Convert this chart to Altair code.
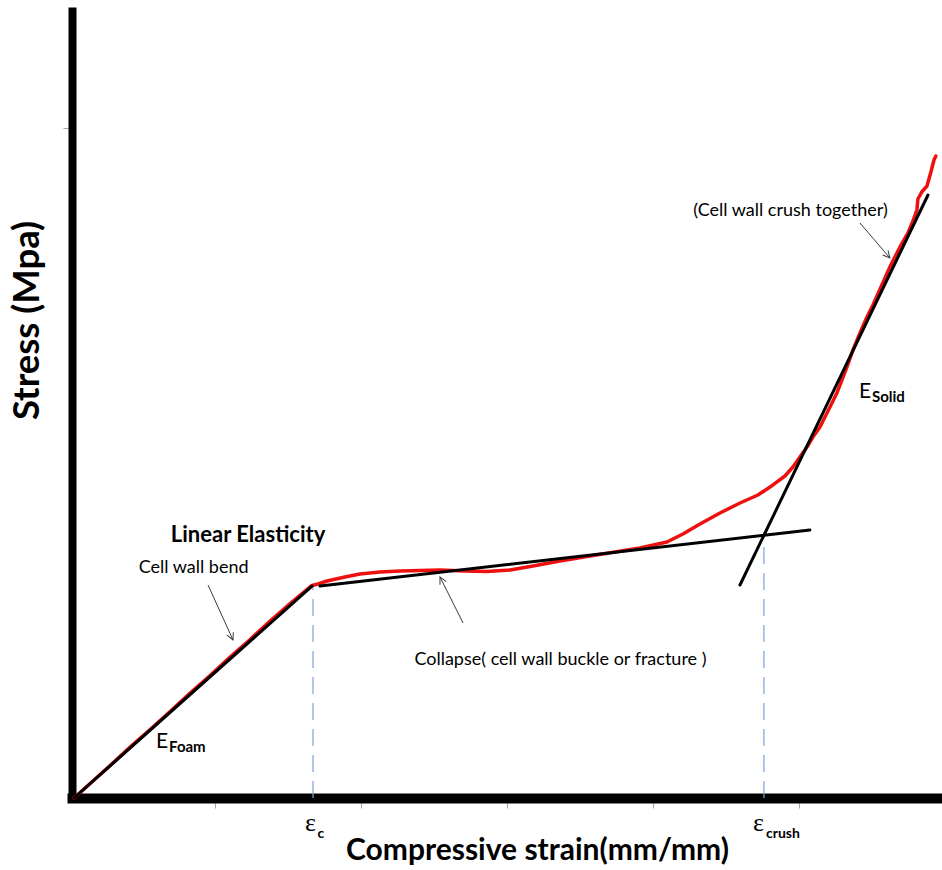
import altair as alt
import numpy as np
import pandas as pd

# ---- measured compression curve (strain in mm/mm, stress in MPa) ----
strain = [0.0034, 0.0144, 0.0281, 0.0418, 0.0555, 0.0692, 0.0829, 0.0966, 0.1103, 0.1240,
          0.1377, 0.1514, 0.1664, 0.1705, 0.1767, 0.1890, 0.1993, 0.2130, 0.2267, 0.2404,
          0.2541, 0.2712, 0.2863, 0.3021, 0.3178, 0.3363, 0.3568, 0.3740, 0.3911, 0.4096,
          0.4205, 0.4322, 0.4459, 0.4596, 0.4719, 0.4822, 0.4904, 0.4959, 0.5007, 0.5055,
          0.5096, 0.5144, 0.5192, 0.5233, 0.5260, 0.5295, 0.5329, 0.5370, 0.5418, 0.5466,
          0.5507, 0.5562, 0.5623, 0.5692, 0.5747, 0.5781, 0.5808, 0.5815, 0.5842, 0.5877,
          0.5904, 0.5925, 0.5938]
stress = [0.000, 0.216, 0.485, 0.761, 1.022, 1.291, 1.567, 1.828, 2.104, 2.366,
          2.642, 2.903, 3.172, 3.194, 3.239, 3.299, 3.343, 3.373, 3.388, 3.396,
          3.403, 3.388, 3.381, 3.403, 3.463, 3.537, 3.612, 3.672, 3.731, 3.821,
          3.940, 4.090, 4.254, 4.403, 4.522, 4.672, 4.806, 4.940, 5.090, 5.239,
          5.388, 5.537, 5.746, 5.925, 6.045, 6.239, 6.433, 6.687, 6.940, 7.179,
          7.358, 7.627, 7.925, 8.224, 8.433, 8.612, 8.776, 8.940, 9.045, 9.134,
          9.343, 9.522, 9.582]

# ---- straight-line fits of the three regimes ----
fit_name = ["E_foam", "plateau", "E_solid"]
fit_x0 = [0.0034, 0.1719, 0.4596]
fit_y0 = [0.000, 3.164, 3.179]
fit_x1 = [0.1664, 0.5075, 0.5884]
fit_y1 = [3.164, 4.000, 9.000]

# ---- characteristic strains (dashed guides) ----
eps_name = ["c", "crush"]
eps_strain = [0.1671, 0.4760]
eps_stress = [3.15, 3.93]

# ---- annotation arrows (tail -> head) ----
arrow_x0 = [0.0952, 0.2699, 0.5418]
arrow_y0 = [3.179, 2.612, 8.582]
arrow_x1 = [0.1123, 0.2541, 0.5623]
arrow_y1 = [2.358, 3.299, 8.060]

# ---- annotation text ----
note_text = ["Cell wall bend", "Collapse( cell wall buckle or fracture )", "(Cell wall crush together)"]
note_x = [0.0853, 0.3366, 0.4942]
note_y = [3.433, 2.060, 8.761]

head_text = ["Linear Elasticity"]
head_x = [0.1226]
head_y = [3.925]

modulus_text = ["E", "E"]
modulus_x = [0.0596, 0.5411]
modulus_y = [0.746, 5.970]
modulus_sub = ["Foam", "Solid"]
modulus_sub_x = [0.0685, 0.5500]
modulus_sub_y = [0.687, 5.910]

eps_label_x = [0.1616, 0.4685]
eps_label_y = [-0.493, -0.493]
eps_sub_x = [0.1702, 0.4774]
eps_sub_y = [-0.597, -0.597]

x_ticks = [0.1, 0.2, 0.3, 0.4, 0.5]
y_ticks = [10]

# ---- layout ----
W, H = 870, 787
X_DOM = [0.002, 0.598]
Y_DOM = [0.0, 11.746]
FONT = "Lato"

xs = alt.Scale(domain=X_DOM, nice=False, zero=False)
ys = alt.Scale(domain=Y_DOM, nice=False, zero=False)

x_axis = alt.Axis(values=x_ticks, labels=False, grid=False,
                  domainColor="black", domainWidth=10, domainCap="square",
                  tickColor="#a8a8a8", tickWidth=1, tickSize=10,
                  titleFont=FONT, titleFontSize=30, titleFontWeight="bold",
                  titleColor="black", titleX=465, titleY=61,
                  titleAlign="center", titleBaseline="alphabetic")
y_axis = alt.Axis(values=y_ticks, labels=False, grid=False,
                  domainColor="black", domainWidth=8, domainCap="square",
                  tickColor="#a8a8a8", tickWidth=1, tickSize=9,
                  titleFont=FONT, titleFontSize=36.5, titleFontWeight="bold",
                  titleColor="black", titleAngle=270, titleX=-45, titleY=309,
                  titleAlign="center", titleBaseline="middle")

X_TITLE = "Compressive strain(mm/mm)"
Y_TITLE = "Stress (Mpa)"


def X(field):
    return alt.X(field, type="quantitative", scale=xs, axis=x_axis, title=X_TITLE)


def Y(field):
    return alt.Y(field, type="quantitative", scale=ys, axis=y_axis, title=Y_TITLE)


curve = pd.DataFrame({"strain": strain, "stress": stress})
fits = pd.DataFrame({"name": fit_name, "x0": fit_x0, "y0": fit_y0, "x1": fit_x1, "y1": fit_y1})
guides = pd.DataFrame({"name": eps_name, "x": eps_strain, "y": eps_stress, "y0": [0.0, 0.0]})
arrows = pd.DataFrame({"x0": arrow_x0, "y0": arrow_y0, "x1": arrow_x1, "y1": arrow_y1})

# arrowhead orientation in screen space (clockwise from "up")
px_x = W / (X_DOM[1] - X_DOM[0])
px_y = H / (Y_DOM[1] - Y_DOM[0])
dx = (arrows["x1"] - arrows["x0"]) * px_x
dy = -(arrows["y1"] - arrows["y0"]) * px_y
arrows["angle"] = np.mod(np.degrees(np.arctan2(dx, -dy)), 360)

notes = pd.DataFrame({"t": note_text, "x": note_x, "y": note_y})
heads = pd.DataFrame({"t": head_text, "x": head_x, "y": head_y})
mods = pd.DataFrame({"t": modulus_text, "x": modulus_x, "y": modulus_y})
mod_subs = pd.DataFrame({"t": modulus_sub, "x": modulus_sub_x, "y": modulus_sub_y})
eps_lab = pd.DataFrame({"t": ["\u03b5", "\u03b5"], "x": eps_label_x, "y": eps_label_y})
eps_sub = pd.DataFrame({"t": eps_name, "x": eps_sub_x, "y": eps_sub_y})

guide_layer = alt.Chart(guides).mark_rule(
    color="#7ba3dc", strokeWidth=1.2, strokeDash=[17, 9]
).encode(x=X("x"), y=Y("y0"), y2="y")

curve_layer = alt.Chart(curve).mark_line(
    color="#ee0f0f", strokeWidth=3.5, strokeCap="round", strokeJoin="round"
).encode(x=X("strain"), y=Y("stress"))

fit_layer = alt.Chart(fits).mark_rule(
    color="black", strokeWidth=3, strokeCap="round"
).encode(x=X("x0"), y=Y("y0"), x2="x1", y2="y1")

arrow_line = alt.Chart(arrows).mark_rule(
    color="#3a3a3a", strokeWidth=1
).encode(x=X("x0"), y=Y("y0"), x2="x1", y2="y1")

arrow_head = alt.Chart(arrows).mark_point(
    shape="M-1,2L0,0L1,2", filled=False, color="#3a3a3a", strokeWidth=1, size=49, opacity=1
).encode(x=X("x1"), y=Y("y1"), angle=alt.Angle("angle:Q", scale=None))

note_layer = alt.Chart(notes).mark_text(
    font=FONT, fontSize=18, color="black", align="center", baseline="middle"
).encode(x=X("x"), y=Y("y"), text="t:N")

head_layer = alt.Chart(heads).mark_text(
    font=FONT, fontSize=22, fontWeight="bold", color="black", align="center", baseline="middle"
).encode(x=X("x"), y=Y("y"), text="t:N")

mod_layer = alt.Chart(mods).mark_text(
    font=FONT, fontSize=21, color="black", align="left", baseline="alphabetic"
).encode(x=X("x"), y=Y("y"), text="t:N")

mod_sub_layer = alt.Chart(mod_subs).mark_text(
    font=FONT, fontSize=15, fontWeight="bold", color="black", align="left", baseline="alphabetic"
).encode(x=X("x"), y=Y("y"), text="t:N")

eps_layer = alt.Chart(eps_lab).mark_text(
    font="Liberation Serif", fontSize=26, color="black", align="left", baseline="alphabetic"
).encode(x=X("x"), y=Y("y"), text="t:N")

eps_sub_layer = alt.Chart(eps_sub).mark_text(
    font=FONT, fontSize=14, fontWeight="bold", color="black", align="left", baseline="alphabetic"
).encode(x=X("x"), y=Y("y"), text="t:N")

chart = alt.layer(
    guide_layer, curve_layer, fit_layer, arrow_line, arrow_head,
    note_layer, head_layer, mod_layer, mod_sub_layer, eps_layer, eps_sub_layer
).properties(
    width=W, height=H,
    autosize=alt.AutoSizeParams(type="none"),
    padding={"left": 72, "top": 11, "right": 0, "bottom": 72},
    background="white",
).configure_view(stroke=None)

chart.save("out.html", embed_options={"renderer": "svg", "actions": False})
